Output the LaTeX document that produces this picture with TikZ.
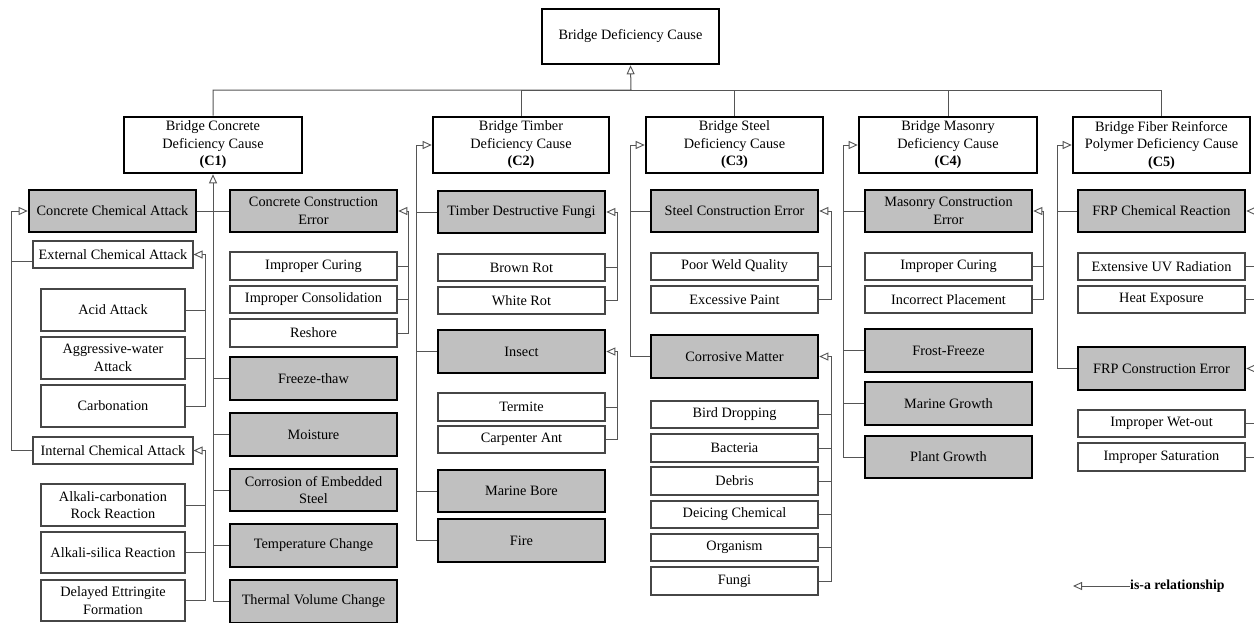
\documentclass[tikz,border=0pt]{standalone}
\usepackage{fontspec}
\setmainfont{Liberation Serif}
\usetikzlibrary{arrows.meta}
\definecolor{boxgray}{RGB}{192,192,192}
\definecolor{linegray}{RGB}{85,85,85}
\definecolor{edgegray}{RGB}{70,70,70}

% \bx{style}{name}{x1}{y1}{x2}{y2}{text}: a box given by its corners
\newcommand{\bx}[7]{%
  \pgfmathsetmacro\bxw{#5-#3}\pgfmathsetmacro\bxh{#6-#4}%
  \node[#1, minimum width=\bxw pt, minimum height=\bxh pt] (#2) at ({(#3+#5)/2},{(#4+#6)/2}) {#7};}

\begin{document}
\begin{tikzpicture}[x=1pt,y=-1pt,
  every node/.style={font=\fontsize{14.3}{17.5}\selectfont, align=center, inner sep=1pt},
  topbox/.style={draw=black, line width=2.6pt, fill=white},
  graybox/.style={draw=black, line width=2.6pt, fill=boxgray},
  whitebox/.style={draw=edgegray, line width=1.1pt, fill=white},
  conn/.style={draw=linegray, line width=1pt},
  isa/.style={conn, -{Triangle[open, length=9pt, width=8pt, line width=0.9pt, fill=white]}},
]
\useasboundingbox (0,0) rectangle (1254,622);
\fill[white] (0,0) rectangle (1254,622);

% ---- root and the five material classes
\bx{topbox}{root}{542}{9}{719}{64}{Bridge Deficiency Cause}
\bx{topbox}{c1}{124}{117}{302}{173}{Bridge Concrete\\Deficiency Cause\\\textbf{(C1)}}
\bx{topbox}{c2}{433}{117}{609}{173}{Bridge Timber\\Deficiency Cause\\\textbf{(C2)}}
\bx{topbox}{c3}{646}{117}{823}{173}{Bridge Steel\\Deficiency Cause\\\textbf{(C3)}}
\bx{topbox}{c4}{859}{117}{1037}{173}{Bridge Masonry\\Deficiency Cause\\\textbf{(C4)}}
\bx{topbox}{c5}{1073}{117}{1250}{173}{Bridge Fiber Reinforce\\Polymer Deficiency Cause\\\textbf{(C5)}}

\coordinate (bus) at (631,90);
\draw[isa] (c1.north) |- (bus) -- (root.south);
\foreach \n in {c2,c3,c4,c5} \draw[conn] (\n.north) |- (bus);

% ---- concrete
\bx{graybox}{cca}{29}{190}{196}{232}{Concrete Chemical Attack}
\bx{graybox}{cce}{230}{190}{397}{232}{Concrete Construction\\Error}
\bx{whitebox}{eca}{33}{241}{193}{268}{External Chemical Attack}
\bx{whitebox}{acid}{41}{289}{185}{331}{Acid Attack}
\bx{whitebox}{aggw}{41}{337}{185}{379}{Aggressive-water\\Attack}
\bx{whitebox}{carb}{41}{385}{185}{427}{Carbonation}
\bx{whitebox}{ica}{33}{437}{193}{464}{Internal Chemical Attack}
\bx{whitebox}{acr}{41}{484}{185}{526}{Alkali-carbonation\\Rock Reaction}
\bx{whitebox}{asr}{41}{532}{185}{573}{Alkali-silica Reaction}
\bx{whitebox}{det}{41}{580}{185}{621}{Delayed Ettringite\\Formation}
\bx{whitebox}{icur}{230}{252}{397}{280}{Improper Curing}
\bx{whitebox}{icon}{230}{286}{397}{313}{Improper Consolidation}
\bx{whitebox}{resh}{230}{319}{397}{347}{Reshore}
\bx{graybox}{frth}{230}{357}{397}{400}{Freeze-thaw}
\bx{graybox}{mois}{230}{413}{397}{456}{Moisture}
\bx{graybox}{coes}{230}{469}{397}{511}{Corrosion of Embedded\\Steel}
\bx{graybox}{temp}{230}{524}{397}{567}{Temperature Change}
\bx{graybox}{thvc}{230}{580}{397}{623}{Thermal Volume Change}

\draw[isa] (thvc.west) -| (c1.south);
\foreach \n in {frth,mois,coes,temp} \draw[conn] (\n.west) -- (\n.west -| c1.south);
\draw[conn] (cca.east) -- (cce.west);
\draw[isa] (ica.west) -- ++(-21,0) |- (cca.west);
\draw[conn] ([yshift=-7pt]eca.west) -- ++(-21,0);
\draw[isa] (carb.east) -- ++(20,0) |- (eca.east);
\foreach \n in {acid,aggw} \draw[conn] (\n.east) -- ++(20,0);
\draw[isa] (det.east) -- ++(20,0) |- (ica.east);
\foreach \n in {acr,asr} \draw[conn] (\n.east) -- ++(20,0);
\draw[isa] (resh.east) -- ++(11,0) |- (cce.east);
\foreach \n in {icur,icon} \draw[conn] (\n.east) -- ++(11,0);

% ---- timber
\bx{graybox}{tdf}{438}{191}{605}{233}{Timber Destructive Fungi}
\bx{whitebox}{brot}{438}{254}{605}{281}{Brown Rot}
\bx{whitebox}{wrot}{438}{287}{605}{314}{White Rot}
\bx{graybox}{inse}{438}{330}{605}{373}{Insect}
\bx{whitebox}{term}{438}{393}{605}{421}{Termite}
\bx{whitebox}{cant}{438}{426}{605}{453}{Carpenter Ant}
\bx{graybox}{mbor}{438}{470}{605}{512}{Marine Bore}
\bx{graybox}{fire}{438}{519}{605}{562}{Fire}

\draw[isa] (fire.west) -- ++(-20,0) |- (c2.west);
\foreach \n in {tdf,inse,mbor} \draw[conn] (\n.west) -- ++(-20,0);
\draw[isa] (wrot.east) -- ++(12,0) |- (tdf.east);
\draw[conn] (brot.east) -- ++(12,0);
\draw[isa] (cant.east) -- ++(12,0) |- (inse.east);
\draw[conn] (term.east) -- ++(12,0);

% ---- steel
\bx{graybox}{sce}{651}{190}{818}{232}{Steel Construction Error}
\bx{whitebox}{pwq}{651}{253}{818}{280}{Poor Weld Quality}
\bx{whitebox}{expa}{651}{286}{818}{313}{Excessive Paint}
\bx{graybox}{corm}{651}{335}{818}{378}{Corrosive Matter}
\bx{whitebox}{bird}{651}{401}{818}{428}{Bird Dropping}
\bx{whitebox}{bact}{651}{434}{818}{462}{Bacteria}
\bx{whitebox}{debr}{651}{467}{818}{495}{Debris}
\bx{whitebox}{deic}{651}{501}{818}{528}{Deicing Chemical}
\bx{whitebox}{orga}{651}{534}{818}{561}{Organism}
\bx{whitebox}{fung}{651}{567}{818}{595}{Fungi}

\draw[isa] (corm.west) -- ++(-19,0) |- (c3.west);
\draw[conn] (sce.west) -- ++(-19,0);
\draw[isa] (expa.east) -- ++(13,0) |- (sce.east);
\draw[conn] (pwq.east) -- ++(13,0);
\draw[isa] (fung.east) -- ++(13,0) |- (corm.east);
\foreach \n in {bird,bact,debr,deic,orga} \draw[conn] (\n.east) -- ++(13,0);

% ---- masonry
\bx{graybox}{mce}{865}{190}{1032}{232}{Masonry Construction\\Error}
\bx{whitebox}{icur2}{865}{253}{1032}{280}{Improper Curing}
\bx{whitebox}{ipla}{865}{286}{1032}{313}{Incorrect Placement}
\bx{graybox}{frfr}{865}{329}{1032}{372}{Frost-Freeze}
\bx{graybox}{mgro}{865}{382}{1032}{425}{Marine Growth}
\bx{graybox}{pgro}{865}{436}{1032}{478}{Plant Growth}

\draw[isa] (pgro.west) -- ++(-20,0) |- (c4.west);
\foreach \n in {mce,frfr,mgro} \draw[conn] (\n.west) -- ++(-20,0);
\draw[isa] (ipla.east) -- ++(11,0) |- (mce.east);
\draw[conn] (icur2.east) -- ++(11,0);

% ---- fiber reinforced polymer
\bx{graybox}{frpc}{1078}{190}{1245}{232}{FRP Chemical Reaction}
\bx{whitebox}{uvr}{1078}{253}{1245}{280}{Extensive UV Radiation}
\bx{whitebox}{heat}{1078}{286}{1245}{313}{Heat Exposure}
\bx{graybox}{frpe}{1078}{347}{1245}{390}{FRP Construction Error}
\bx{whitebox}{iwet}{1078}{410}{1245}{437}{Improper Wet-out}
\bx{whitebox}{isat}{1078}{443}{1245}{471}{Improper Saturation}

\draw[isa] (frpe.west) -- ++(-19,0) |- (c5.west);
\draw[conn] (frpc.west) -- ++(-19,0);
\draw[isa] (heat.east) -- ++(14,0) |- (frpc.east);
\draw[conn] (uvr.east) -- ++(14,0);
\draw[isa] (isat.east) -- ++(14,0) |- (frpe.east);
\draw[conn] (iwet.east) -- ++(14,0);

% ---- legend
\node[anchor=west, inner sep=0pt, font=\fontsize{13.8}{16}\selectfont\bfseries] (lgtext) at (1130,586) {is-a relationship};
\coordinate (lgtip) at (1073,586);
\draw[isa] (lgtext.west) -- (lgtip);
\end{tikzpicture}
\end{document}
